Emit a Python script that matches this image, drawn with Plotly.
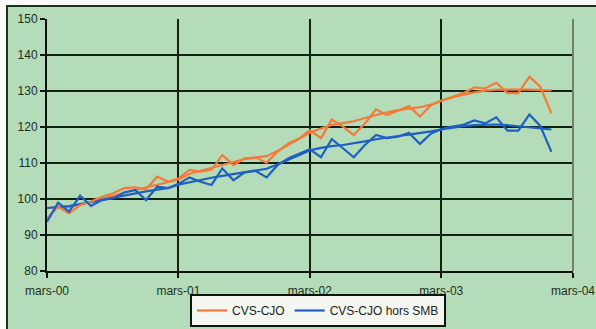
import plotly.graph_objects as go
import pandas as pd

# Monthly observations, March 2000 .. January 2004
months = pd.date_range("2000-03-01", periods=47, freq="MS")

cvs_cjo = [94.6, 97.9, 96.0, 98.3, 99.3, 100.6, 101.6, 103.0, 103.2, 102.7, 106.2, 104.8,
           105.7, 108.1, 107.6, 108.1, 112.2, 109.4, 111.3, 111.5, 110.1, 113.1, 115.5, 116.9,
           119.1, 116.9, 122.1, 120.1, 117.8, 121.0, 124.9, 123.3, 124.5, 125.8, 122.9, 126.1,
           127.3, 128.4, 129.4, 131.0, 130.7, 132.3, 129.4, 129.4, 134.0, 131.2, 123.8]
cvs_cjo_trend = [97.5, 97.6, 97.8, 98.4, 99.2, 100.0, 100.9, 101.8, 102.5, 103.2, 104.0, 104.7,
                 105.4, 107.0, 107.8, 108.6, 109.5, 110.4, 111.1, 111.5, 111.9, 113.3, 115.0, 116.8,
                 118.4, 119.6, 120.6, 121.1, 121.6, 122.5, 123.4, 124.1, 124.7, 125.1, 125.5, 126.2,
                 127.3, 128.2, 129.0, 129.6, 130.1, 130.4, 130.5, 130.4, 130.4, 130.3, 130.2]
hors_smb = [93.7, 99.0, 96.5, 100.9, 98.1, 99.7, 100.2, 101.8, 102.5, 99.7, 103.4, 103.0,
            104.2, 106.0, 104.8, 103.9, 108.5, 105.2, 107.4, 107.8, 106.0, 109.4, 111.3, 112.7,
            113.8, 111.6, 116.6, 114.1, 111.6, 115.0, 117.8, 116.9, 117.3, 118.4, 115.3, 118.2,
            119.4, 120.1, 120.6, 121.8, 121.0, 122.7, 119.0, 119.0, 123.5, 120.3, 113.1]
hors_smb_trend = [97.5, 97.7, 98.0, 98.6, 99.2, 99.8, 100.4, 101.0, 101.6, 102.1, 102.6, 103.1,
                  104.0, 104.7, 105.3, 105.9, 106.4, 106.9, 107.4, 107.9, 108.4, 109.6, 111.0, 112.4,
                  113.5, 114.2, 114.7, 115.0, 115.4, 116.0, 116.6, 117.1, 117.5, 117.9, 118.3, 118.8,
                  119.3, 119.8, 120.2, 120.5, 120.7, 120.7, 120.5, 120.2, 119.9, 119.6, 119.3]

tick_dates = ["2000-03-01", "2001-03-01", "2002-03-01", "2003-03-01", "2004-03-01"]
tick_labels = ["mars-00", "mars-01", "mars-02", "mars-03", "mars-04"]
y_ticks = [80, 90, 100, 110, 120, 130, 140, 150]

ORANGE = "#F47A3A"
BLUE = "#1F5FC2"
GREEN = "#B4DCB9"
TXT = "#1d2f1d"

fig = go.Figure()
fig.add_trace(go.Scatter(x=months, y=cvs_cjo_trend, mode="lines", showlegend=False,
                         line=dict(color=ORANGE, width=2.2)))
fig.add_trace(go.Scatter(x=months, y=hors_smb_trend, mode="lines", showlegend=False,
                         line=dict(color=BLUE, width=2.2)))
fig.add_trace(go.Scatter(x=months, y=cvs_cjo, mode="lines", name="CVS-CJO",
                         line=dict(color=ORANGE, width=2.2)))
fig.add_trace(go.Scatter(x=months, y=hors_smb, mode="lines", name="CVS-CJO hors SMB",
                         line=dict(color=BLUE, width=2.2)))

W, H = 596, 329
ml, mr, mt, mb = 47, 23, 19, 58
pw, ph = W - ml - mr, H - mt - mb

def px(x):
    return (x - ml) / pw

def py(y):
    return 1 - (y - mt) / ph

shapes = [
    # white strips outside the chart frame (top and left)
    dict(type="rect", xref="paper", yref="paper", x0=px(-5), x1=px(W + 5), y0=py(6), y1=py(-5),
         line=dict(width=0), fillcolor="#FBFCFA", layer="below"),
    dict(type="rect", xref="paper", yref="paper", x0=px(-5), x1=px(7), y0=py(H + 5), y1=py(-5),
         line=dict(width=0), fillcolor="#FBFCFA", layer="below"),
    # outer chart frame
    dict(type="rect", xref="paper", yref="paper", x0=px(7), x1=px(W + 5), y0=py(H + 5), y1=py(6),
         line=dict(color="#203020", width=2), fillcolor="rgba(0,0,0,0)", layer="below"),
    # plot area right border
    dict(type="line", xref="paper", yref="paper", x0=1, x1=1, y0=0, y1=1,
         line=dict(color="#6f7f72", width=2)),
]

fig.update_layout(
    width=W, height=H,
    margin=dict(l=ml, r=mr, t=mt, b=mb, autoexpand=False),
    paper_bgcolor=GREEN,
    plot_bgcolor=GREEN,
    font=dict(family="Arial, Liberation Sans, sans-serif", size=12, color=TXT),
    shapes=shapes,
    showlegend=True,
    legend=dict(orientation="h", x=px(190), xanchor="left", y=py(327), yanchor="bottom",
                bgcolor="#f4f6f2", bordercolor="#111111", borderwidth=2,
                font=dict(size=12, color="#222222"), itemwidth=30,
                tracegroupgap=0),
)

fig.update_xaxes(
    type="date", range=["2000-03-01", "2004-03-01"],
    tickvals=tick_dates, ticktext=tick_labels,
    showgrid=True, gridcolor="#142014", gridwidth=2,
    showline=True, linecolor="#111111", linewidth=2,
    ticks="outside", ticklen=5, tickcolor="#111111", tickwidth=2,
    tickfont=dict(size=12, color=TXT), ticklabelstandoff=3,
    zeroline=False,
)
fig.update_yaxes(
    range=[80, 150], tickvals=y_ticks,
    showgrid=True, gridcolor="#142014", gridwidth=2,
    showline=True, linecolor="#111111", linewidth=2,
    ticks="outside", ticklen=5, tickcolor="#111111", tickwidth=2,
    tickfont=dict(size=12, color=TXT),
    zeroline=False,
)

fig.write_html("out.html")
